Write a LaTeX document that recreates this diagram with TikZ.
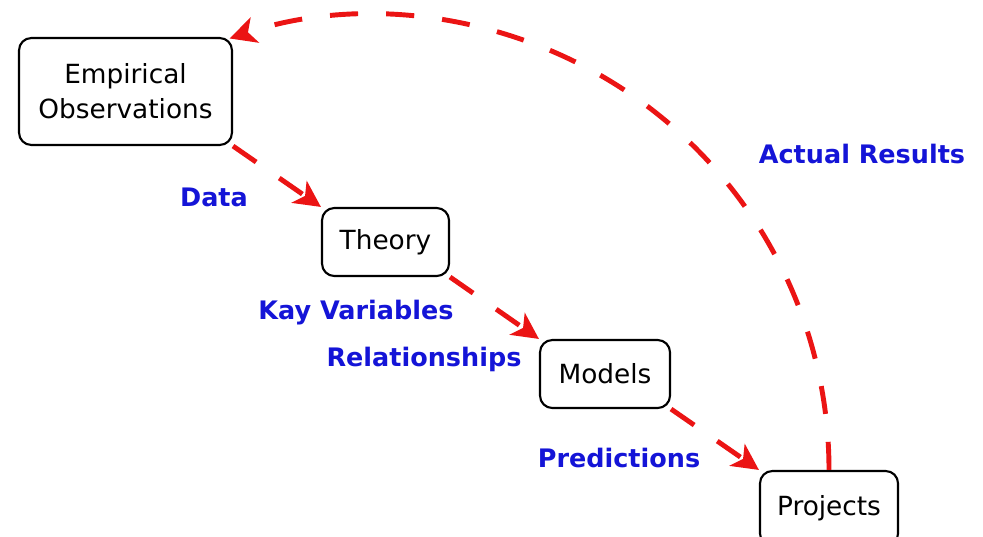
\documentclass[tikz,border=0pt]{standalone}
\usepackage{fontspec}
\setmainfont{DejaVu Sans}
\usetikzlibrary{arrows.meta}
\definecolor{arrred}{RGB}{235,20,20}
\definecolor{lblblue}{RGB}{20,20,215}
\begin{document}
\begin{tikzpicture}[x=0.02cm,y=0.02cm,
  box/.style={draw=black, line width=1.2pt, rounded corners=7pt, inner sep=0pt, align=center, font=\fontsize{15}{20}\selectfont},
  flow/.style={draw=arrred, line width=2.8pt, dash pattern=on 16pt off 16pt, -{Stealth[length=15pt,width=15pt,inset=4pt]}},
  lbl/.style={text=lblblue, font=\fontsize{14.5}{17}\selectfont\bfseries, anchor=base, inner sep=0pt}]
\useasboundingbox (0,0) rectangle (983,-537);
\node[box, minimum width=4.26cm, minimum height=2.14cm] (eo) at (125.5,-91.5) {Empirical\\Observations};
\node[box, minimum width=2.54cm, minimum height=1.36cm] (th) at (385.5,-242) {Theory};
\node[box, minimum width=2.6cm, minimum height=1.36cm] (mo) at (605,-374) {Models};
\node[box, minimum width=2.76cm, minimum height=1.5cm] (pr) at (829,-508.5) {Projects};
\draw[flow] (eo.south east) -- (th.north west);
\draw[flow] (th.south east) -- (mo.north west);
\draw[flow] (mo.south east) -- (pr.north west);
\draw[flow] (pr.north) arc[start angle=0, end angle=108.5, radius=455];
\node[lbl] (l1) at (214,-206) {Data};
\node[lbl] (l2) at (356,-319) {Kay Variables};
\node[lbl] (l3) at (424,-366) {Relationships};
\node[lbl] (l4) at (619,-467) {Predictions};
\node[lbl] (l5) at (862,-163) {Actual Results};
\end{tikzpicture}
\end{document}
